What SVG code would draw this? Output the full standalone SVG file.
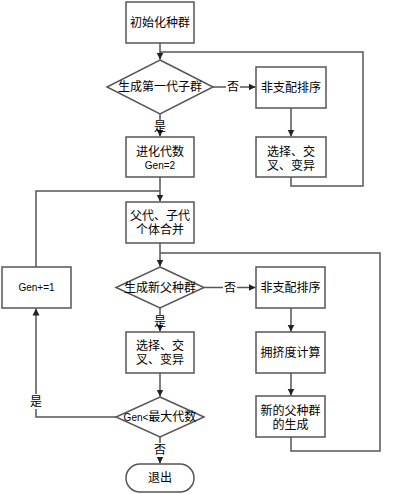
<svg xmlns="http://www.w3.org/2000/svg" width="412" height="494" viewBox="0 0 412 494">
<style>
.n{fill:#fff;stroke:#555;stroke-width:1.5}
.c{fill:none;stroke:#555;stroke-width:1.5}
.t{font-family:"Liberation Sans","Noto Sans CJK SC",sans-serif;font-size:12px;fill:#000;text-anchor:middle;dominant-baseline:central}
.s{font-size:10px}
</style>
<defs>
<marker id="a" markerWidth="8" markerHeight="8" refX="7" refY="4" orient="auto" markerUnits="userSpaceOnUse">
<path d="M0,0.5 L7,4 L0,7.5 Z" fill="#222"/>
</marker>
</defs>
<rect width="412" height="494" fill="#fff"/>
<g id="connectors">
<path class="c" d="M160,43 V59.5" marker-end="url(#a)"/>
<path class="c" d="M291,177 V186 H363 V52 H160"/>
<path class="c" d="M213,87 H226"/>
<path class="c" d="M240,87 H255.5" marker-end="url(#a)"/>
<path class="c" d="M291,108 V136.5" marker-end="url(#a)"/>
<path class="c" d="M160,114 V120"/>
<path class="c" d="M160,133 V136.5" marker-end="url(#a)"/>
<path class="c" d="M160,177 V201.5" marker-end="url(#a)"/>
<path class="c" d="M36,267 V191 H160"/>
<path class="c" d="M160,243 V266.5" marker-end="url(#a)"/>
<path class="c" d="M291,437 V451 H380 V253 H160"/>
<path class="c" d="M204,287.5 H223"/>
<path class="c" d="M237,287.5 H255.5" marker-end="url(#a)"/>
<path class="c" d="M291,308 V331.5" marker-end="url(#a)"/>
<path class="c" d="M291,373 V395.5" marker-end="url(#a)"/>
<path class="c" d="M160,308 V315"/>
<path class="c" d="M160,328 V331.5" marker-end="url(#a)"/>
<path class="c" d="M160,373 V396.5" marker-end="url(#a)"/>
<path class="c" d="M116,417 H36 V409"/>
<path class="c" d="M36,394 V308.5" marker-end="url(#a)"/>
<path class="c" d="M160,437 V443"/>
<path class="c" d="M160,457 V463.5" marker-end="url(#a)"/>
<text class="t" x="233" y="87">否</text>
<text class="t" x="160" y="127">是</text>
<text class="t" x="230" y="287.5">否</text>
<text class="t" x="160" y="321.5">是</text>
<text class="t" x="36" y="401.5">是</text>
<text class="t" x="160" y="450">否</text>
</g>
<g id="init"><rect class="n" x="126" y="2" width="68" height="41"/><text class="t" x="160" y="22.5">初始化种群</text></g>
<g id="d1"><polygon class="n" points="160,60 213,87 160,114 107,87"/><text class="t" x="160" y="87">生成第一代子群</text></g>
<g id="sort1"><rect class="n" x="256" y="67" width="70" height="41"/><text class="t" x="291" y="87.5">非支配排序</text></g>
<g id="sel1"><rect class="n" x="256" y="137" width="70" height="40"/><text class="t" x="291" y="151.5">选择、交</text><text class="t" x="291" y="165.5">叉、变异</text></g>
<g id="gen2"><rect class="n" x="126" y="137" width="68" height="40"/><text class="t" x="160" y="151.5">进化代数</text><text class="t s" x="160" y="165.5">Gen=2</text></g>
<g id="merge"><rect class="n" x="126" y="202" width="68" height="41"/><text class="t" x="160" y="215.5">父代、子代</text><text class="t" x="160" y="229.5">个体合并</text></g>
<g id="d2"><polygon class="n" points="160,267 204,287.5 160,308 116,287.5"/><text class="t" x="160" y="287.5">生成新父种群</text></g>
<g id="sort2"><rect class="n" x="256" y="267" width="69" height="41"/><text class="t" x="290.5" y="287.5">非支配排序</text></g>
<g id="genplus"><rect class="n" x="2" y="267" width="69" height="41"/><text class="t s" x="36.5" y="287.5">Gen+=1</text></g>
<g id="sel2"><rect class="n" x="126" y="332" width="68" height="41"/><text class="t" x="160" y="345.5">选择、交</text><text class="t" x="160" y="360">叉、变异</text></g>
<g id="crowd"><rect class="n" x="256" y="332" width="69" height="41"/><text class="t" x="290.5" y="352.5">拥挤度计算</text></g>
<g id="newpop"><rect class="n" x="256" y="396" width="69" height="41"/><text class="t" x="290.5" y="410.5">新的父种群</text><text class="t" x="290.5" y="425">的生成</text></g>
<g id="d3"><polygon class="n" points="160,397 204,417 160,437 116,417"/><text class="t" x="160" y="417"><tspan class="s">Gen&lt;</tspan>最大代数</text></g>
<g id="exit"><rect class="n" x="126" y="464" width="68" height="28" rx="14" ry="14"/><text class="t" x="160" y="478">退出</text></g>
</svg>
